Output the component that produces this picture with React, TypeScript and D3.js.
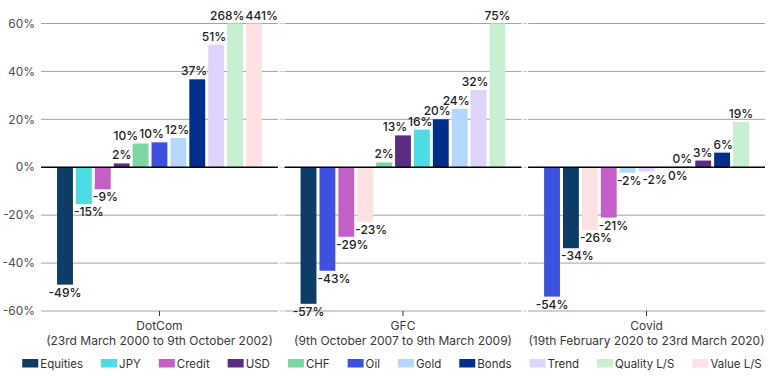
import React from 'react';
import * as d3 from 'd3';

const series = ["Equities", "JPY", "Credit", "USD", "CHF", "Oil", "Gold", "Bonds", "Trend", "Quality L/S", "Value L/S"];
const colors = ["#0d3c66", "#4bdce4", "#c45fca", "#5a2c86", "#7bd6a2", "#3d50e0", "#b3d8fb", "#002e8c", "#ddd3fb", "#c7f0d0", "#fee1e1"];
const periods = ["DotCom", "GFC", "Covid"];
const periodDates = [
  "(23rd March 2000 to 9th October 2002)",
  "(9th October 2007 to 9th March 2009)",
  "(19th February 2020 to 23rd March 2020)",
];
// values in series order: Equities, JPY, Credit, USD, CHF, Oil, Gold, Bonds, Trend, Quality L/S, Value L/S
const dotcomValues = [-49, -15.4, -9.2, 1.6, 9.9, 10.4, 12.2, 36.7, 51.2, 268, 441];
const gfcValues = [-57, 15.7, -29, 13.3, 2, -43.2, 24.4, 20, 32.2, 75, -22.8];
const covidValues = [-33.8, -0.3, -21, 2.8, 0.3, -54, -2.3, 6.1, -1.8, 18.9, -26.3];
const yTicks = [-60, -40, -20, 0, 20, 40, 60];

const W = 770, H = 376;
const FONT = "Inter, 'Noto Sans', sans-serif";

let ctx: CanvasRenderingContext2D | null = null;
function textWidth(s: string, font: string) {
  if (!ctx && typeof document !== 'undefined') ctx = document.createElement('canvas').getContext('2d');
  if (!ctx) return s.length * 7;
  ctx.font = font;
  return ctx.measureText(s).width;
}

type Lab = { x: number; w: number; top: number; bottom: number; anchor: number; baseline: number; text: string; idx: number };
type Bar = { left: number; right: number; top: number; bottom: number; name: string; value: number; color: string };

export default function App() {
  const allValues = [dotcomValues, gfcValues, covidValues];
  const xPanel = d3.scaleBand<string>().domain(periods).range([41, 765]).paddingInner(0.027).paddingOuter(0);
  const y = d3.scaleLinear().domain([-60, 60]).range([311, 23.5]);
  const clamp = (v: number) => Math.max(-60, Math.min(60, v));
  const labelFont = `500 12px Inter`;

  const panels = periods.map((p, pi) => {
    const vals = allValues[pi];
    const order = d3.range(series.length).sort((a, b) => vals[a] - vals[b]);
    const px = xPanel(p)!;
    const xb = d3.scaleBand<string>().domain(order.map(i => series[i])).range([px, px + xPanel.bandwidth()]).paddingInner(0.16).paddingOuter(0.85);
    const bars: Bar[] = order.map(i => {
      const v = vals[i];
      const y0 = y(0), y1 = y(clamp(v));
      return { left: xb(series[i])!, right: xb(series[i])! + xb.bandwidth(), top: Math.min(y0, y1), bottom: Math.max(y0, y1), name: series[i], value: v, color: colors[i] };
    });
    const labels: Lab[] = bars.map((b, k) => {
      const text = `${Math.round(b.value)}%`;
      const w = textWidth(text, labelFont);
      const anchor = (b.left + b.right) / 2;
      const baseline = b.value >= 0 ? b.top - 4 : b.bottom + 12;
      return { x: anchor - w / 2, w, top: baseline - 9, bottom: baseline + 1, anchor, baseline, text, idx: k };
    });
    const pad = 1;
    for (let it = 0; it < 120; it++) {
      for (let i = 0; i < labels.length; i++) {
        for (let j = i + 1; j < labels.length; j++) {
          const a = labels[i], b = labels[j];
          if (a.top < b.bottom && b.top < a.bottom) {
            const [l, r] = a.anchor <= b.anchor ? [a, b] : [b, a];
            const ov = l.x + l.w + pad - r.x;
            if (ov > 0) { l.x -= ov / 2; r.x += ov / 2; }
          }
        }
      }
      labels.forEach(l => {
        bars.forEach((b, k) => {
          if (k === l.idx) return;
          if (l.top < b.bottom && b.top < l.bottom && l.x < b.right && b.left < l.x + l.w) {
            const bc = (b.left + b.right) / 2;
            if (bc < l.anchor) l.x = b.right + pad; else l.x = b.left - pad - l.w;
          }
        });
      });
    }
    return { p, pi, px, bars, labels };
  });

  // legend
  const legendSize = 11.5;
  const legendFont = `400 ${legendSize}px Inter`;
  const sq = 16, sqGap = 2, itemGap = 18;
  const widths = series.map(s => sq + sqGap + textWidth(s, legendFont));
  const total = d3.sum(widths) + itemGap * (series.length - 1);
  let lx = 392 - total / 2;
  const legendItems = series.map((s, i) => {
    const item = { s, x: lx, color: colors[i] };
    lx += widths[i] + itemGap;
    return item;
  });

  return (
    <svg width={W} height={H} style={{ position: 'absolute', left: 0, top: 0, background: '#fff' }} fontFamily={FONT}>
      {yTicks.map(t => (
        <text key={t} x={35} y={y(t) + 4.2} textAnchor="end" fontSize={12} fill="#505050">{`${t}%`}</text>
      ))}
      {panels.map(({ p, pi, px, bars, labels }) => {
        const bw = xPanel.bandwidth();
        const cx = px + bw / 2;
        return (
          <g key={p}>
            {yTicks.filter(t => t !== 0).map(t => (
              <line key={t} x1={px} x2={px + bw} y1={y(t)} y2={y(t)} stroke="#a3a3a3" strokeWidth={1} />
            ))}
            {pi > 0 && yTicks.map(t => (
              <line key={'t' + t} x1={px - 5} x2={px - 1} y1={y(t)} y2={y(t)} stroke="#c8c8c8" strokeWidth={1} />
            ))}
            {bars.map(b => (
              <rect key={b.name} x={b.left} y={b.top} width={b.right - b.left} height={Math.max(0.01, b.bottom - b.top)} fill={b.color} />
            ))}
            <line x1={px} x2={px + bw} y1={y(0)} y2={y(0)} stroke="#000" strokeWidth={1.5} />
            {labels.map(l => (
              <text key={l.idx} x={l.x} y={l.baseline} fontSize={12} fontWeight={500} fill="#222">{l.text}</text>
            ))}
            <line x1={cx} x2={cx} y1={y(-60)} y2={y(-60) + 5} stroke="#333" strokeWidth={1} />
            <text x={cx} y={330} textAnchor="middle" fontSize={12} fill="#3a3a3a">{p}</text>
            <text x={cx} y={344.5} textAnchor="middle" fontSize={12} fill="#3a3a3a">{periodDates[pi]}</text>
          </g>
        );
      })}
      {legendItems.map(it => (
        <g key={it.s}>
          <rect x={it.x} y={359} width={sq} height={8.5} fill={it.color} />
          <text x={it.x + sq + sqGap} y={367.5} fontSize={legendSize} fill="#333">{it.s}</text>
        </g>
      ))}
    </svg>
  );
}
